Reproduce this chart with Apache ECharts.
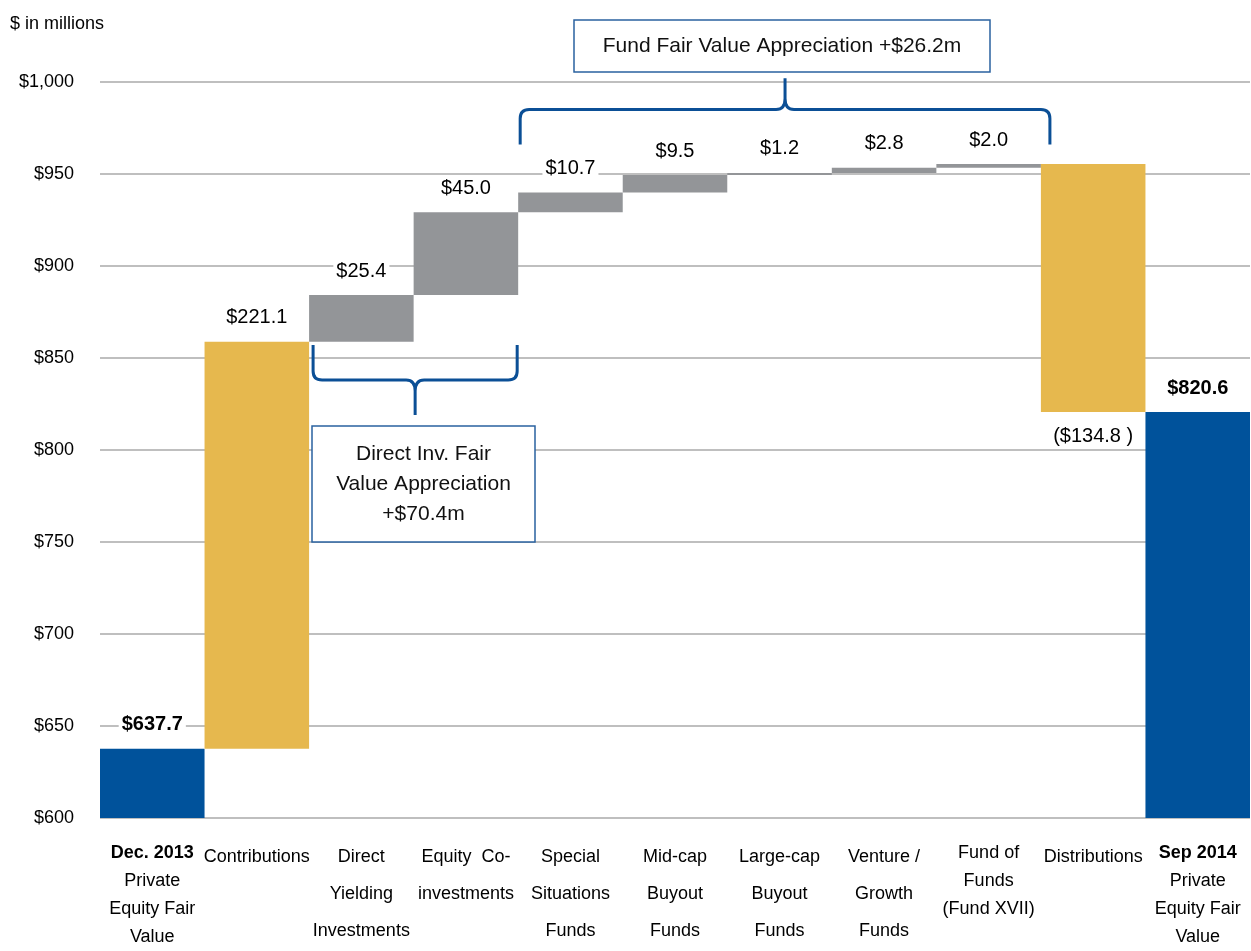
<!DOCTYPE html>
<html>
<head>
<meta charset="utf-8">
<script src="https://cdn.jsdelivr.net/npm/echarts@6/dist/echarts.min.js"></script>
<style>
  html, body { margin: 0; padding: 0; background: #fff; }
  #main { width: 1251px; height: 951px; }
</style>
</head>
<body>
<div id="main"></div>
<script>
// 数据
const CATEGORIES = [
    'Dec. 2013\nPrivate\nEquity Fair\nValue',
    'Contributions',
    'Direct\nYielding\nInvestments',
    'Equity  Co-\ninvestments',
    'Special\nSituations\nFunds',
    'Mid-cap\nBuyout\nFunds',
    'Large-cap\nBuyout\nFunds',
    'Venture /\nGrowth\nFunds',
    'Fund of\nFunds\n(Fund XVII)',
    'Distributions',
    'Sep 2014\nPrivate\nEquity Fair\nValue'
]
const START_VALUE = 637.7
const CHANGES = [221.1, 25.4, 45.0, 10.7, 9.5, 1.2, 2.8, 2.0, -134.8]
const END_VALUE = 820.6
// total / flow / gain
const KINDS = ['total', 'flow', 'gain', 'gain', 'gain', 'gain', 'gain', 'gain', 'gain', 'flow', 'total']
const Y_MIN = 600
const Y_MAX = 1000
const Y_STEP = 50

const COLORS = { total: '#00529B', flow: '#E6B84E', gain: '#939598' }
const FONT = '"Liberation Sans", Arial, sans-serif'

// 计算瀑布图的底座和高度
const base = []
const height = []
base.push(0)
height.push(START_VALUE)
let running = START_VALUE
CHANGES.forEach(function (d) {
    if (d >= 0) {
        base.push(running)
        height.push(d)
    } else {
        base.push(running + d)
        height.push(-d)
    }
    running += d
})
base.push(0)
height.push(END_VALUE)

function labelText(i) {
    if (i === 0) return '$' + START_VALUE.toFixed(1)
    if (i === CATEGORIES.length - 1) return '$' + END_VALUE.toFixed(1)
    const d = CHANGES[i - 1]
    return d < 0 ? '($' + (-d).toFixed(1) + ' )' : '$' + d.toFixed(1)
}

const barData = height.map(function (h, i) {
    const kind = KINDS[i]
    const neg = i > 0 && i < CATEGORIES.length - 1 && CHANGES[i - 1] < 0
    return {
        value: h,
        itemStyle: { color: COLORS[kind] },
        label: {
            position: neg ? 'bottom' : 'top',
            fontWeight: kind === 'total' ? 'bold' : 'normal'
        }
    }
})

// 花括号图形：l/r 两端，h 横线位置，tip 尖端，end 两端的末端
const Brace = echarts.graphic.extendShape({
    shape: { l: 0, r: 0, h: 0, tip: 0, end: 0, rad: 9 },
    buildPath: function (ctx, shape) {
        const l = shape.l, r = shape.r, h = shape.h, tip = shape.tip, end = shape.end
        const m = (l + r) / 2
        const dir = tip > h ? 1 : -1   // 尖端方向
        const rad = shape.rad
        ctx.moveTo(l, end)
        ctx.lineTo(l, h - dir * rad)
        ctx.quadraticCurveTo(l, h, l + rad, h)
        ctx.lineTo(m - rad, h)
        ctx.quadraticCurveTo(m, h, m, h + dir * (rad + 2))
        ctx.lineTo(m, tip)
        ctx.moveTo(m, h + dir * (rad + 2))
        ctx.quadraticCurveTo(m, h, m + rad, h)
        ctx.lineTo(r - rad, h)
        ctx.quadraticCurveTo(r, h, r, h - dir * rad)
        ctx.lineTo(r, end)
    }
})
echarts.graphic.registerShape('Brace', Brace)

var chart = echarts.init(document.getElementById('main'))

option = {
    backgroundColor: '#fff',
    animation: false,
    textStyle: { fontFamily: FONT },
    grid: {
        left: 100,
        right: 1,
        top: 82,
        bottom: 133,
        containLabel: false
    },
    xAxis: {
        type: 'category',
        data: CATEGORIES,
        axisLine: { show: false },
        axisTick: { show: false },
        axisLabel: {
            interval: 0,
            margin: 21,
            color: '#000',
            formatter: function (value, index) {
                const lines = value.split('\n')
                let style = 't'
                if (index === 0 || index === 8 || index === 10) style = 'n'
                return lines.map(function (l, k) {
                    const s = (k === 0 && KINDS[index] === 'total') ? 'b' : style
                    return '{' + s + '|' + l + '}'
                }).join('\n')
            },
            rich: {
                b: { fontSize: 18, fontWeight: 'bold', lineHeight: 28, color: '#000', fontFamily: FONT },
                n: { fontSize: 18, lineHeight: 28, color: '#000', fontFamily: FONT },
                t: { fontSize: 18, lineHeight: 37, color: '#000', fontFamily: FONT }
            }
        }
    },
    yAxis: {
        type: 'value',
        min: Y_MIN,
        max: Y_MAX,
        interval: Y_STEP,
        axisLine: { show: false },
        axisTick: { show: false },
        splitLine: { lineStyle: { color: '#BFBFBF', width: 2 } },
        axisLabel: {
            margin: 26,
            fontSize: 18,
            color: '#000',
            fontFamily: FONT,
            formatter: function (v) {
                return '$' + v.toLocaleString('en-US')
            }
        }
    },
    series: [
        {
            type: 'bar',
            stack: 'wf',
            barCategoryGap: 0,
            silent: true,
            itemStyle: { color: 'transparent' },
            data: base
        },
        {
            type: 'bar',
            stack: 'wf',
            barCategoryGap: 0,
            label: {
                show: true,
                distance: 14,
                fontSize: 20,
                color: '#000',
                fontFamily: FONT,
                backgroundColor: '#fff',
                padding: [0, 3],
                formatter: function (p) {
                    return labelText(p.dataIndex)
                }
            },
            data: barData
        }
    ]
}
chart.setOption(option)

// 括号和注释框
function px(cat, val) {
    return chart.convertToPixel({ gridIndex: 0 }, [cat, val])
}
const half = (px(1, 700)[0] - px(0, 700)[0]) / 2
const yPx = function (v) { return px(0, v)[1] }

const BRACE_COLOR = '#0B4F96'
const BOX_COLOR = '#2A62A0'

chart.setOption({
    graphic: [
        {
            type: 'text',
            left: 10,
            top: 15,
            style: { text: '$ in millions', fontSize: 18, fill: '#000', fontFamily: FONT }
        },
        {
            // 下方括号：Direct Yielding + Equity Co-investments
            type: 'Brace',
            shape: {
                l: px(2, 0)[0] - half + 4,
                r: px(3, 0)[0] + half - 1,
                end: yPx(857),
                h: yPx(838),
                tip: yPx(819),
                rad: 9
            },
            style: { fill: null, stroke: BRACE_COLOR, lineWidth: 3 }
        },
        {
            // 上方括号：基金部分
            type: 'Brace',
            shape: {
                l: px(4, 0)[0] - half + 2,
                r: px(8, 0)[0] + half + 9,
                end: yPx(966),
                h: yPx(985),
                tip: yPx(1002),
                rad: 9
            },
            style: { fill: null, stroke: BRACE_COLOR, lineWidth: 3 }
        },
        {
            type: 'rect',
            shape: { x: 312, y: yPx(813), width: 223, height: 116 },
            style: { fill: '#fff', stroke: BOX_COLOR, lineWidth: 1.5 }
        },
        {
            type: 'text',
            x: 423.5,
            y: yPx(813) + 58,
            style: {
                text: 'Direct Inv. Fair\nValue Appreciation\n+$70.4m',
                fontSize: 21,
                lineHeight: 30,
                fill: '#111',
                fontFamily: FONT,
                align: 'center',
                verticalAlign: 'middle'
            }
        },
        {
            type: 'rect',
            shape: { x: 574, y: 20, width: 416, height: 52 },
            style: { fill: '#fff', stroke: BOX_COLOR, lineWidth: 1.5 }
        },
        {
            type: 'text',
            x: 782,
            y: 46,
            style: {
                text: 'Fund Fair Value Appreciation +$26.2m',
                fontSize: 21,
                fill: '#111',
                fontFamily: FONT,
                align: 'center',
                verticalAlign: 'middle'
            }
        }
    ]
})
</script>
</body>
</html>
